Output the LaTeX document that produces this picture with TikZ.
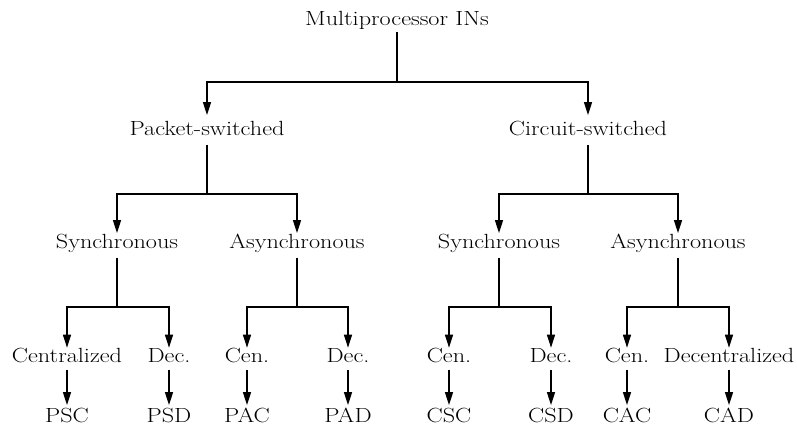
\documentclass[tikz,border=0pt]{standalone}
\usepackage{fontspec}
\setmainfont{Latin Modern Roman}[FakeStretch=1.18]
\usetikzlibrary{arrows.meta}
\begin{document}
\begin{tikzpicture}[x=1pt,y=-1pt,
  lbl/.style={font=\fontsize{20.5}{24}\selectfont, inner sep=0pt, text height=14.2pt, text depth=4pt},
  conn/.style={line width=1.3pt},
  arr/.style={conn, -{Triangle[length=13pt,width=8pt]}}]
\useasboundingbox (0,0) rectangle (797,428);
% level 0
\node[lbl] (root) at (397,20) {Multiprocessor INs};
% level 1
\node[lbl] (ps) at (207,130) {Packet-switched};
\node[lbl] (cs) at (588,130) {Circuit-switched};
% level 2
\node[lbl] (pss) at (117,243) {Synchronous};
\node[lbl] (psa) at (297,243) {Asynchronous};
\node[lbl] (css) at (499,243) {Synchronous};
\node[lbl] (csa) at (678,243) {Asynchronous};
% level 3
\node[lbl] (pssc) at (67,357) {Centralized};
\node[lbl] (pssd) at (169,357) {Dec.};
\node[lbl] (psac) at (247,357) {Cen.};
\node[lbl] (psad) at (348,357) {Dec.};
\node[lbl] (cssc) at (449,357) {Cen.};
\node[lbl] (cssd) at (551,357) {Dec.};
\node[lbl] (csac) at (627,357) {Cen.};
\node[lbl] (csad) at (729,357) {Decentralized};
% level 4
\node[lbl] (psc) at (67,417) {PSC};
\node[lbl] (psd) at (169,417) {PSD};
\node[lbl] (pac) at (247,417) {PAC};
\node[lbl] (pad) at (348,417) {PAD};
\node[lbl] (csc) at (449,417) {CSC};
\node[lbl] (csd) at (551,417) {CSD};
\node[lbl] (cac) at (627,417) {CAC};
\node[lbl] (cad) at (729,417) {CAD};
% junctions
\coordinate (j0) at (397,82);
\coordinate (j1) at (207,194);
\coordinate (j2) at (588,194);
\coordinate (j3) at (117,307);
\coordinate (j4) at (297,307);
\coordinate (j5) at (499,307);
\coordinate (j6) at (678,307);
% level 0 -> 1
\draw[conn, shorten <=2.5pt] (root.south) -- (j0);
\draw[arr, shorten >=5.6pt] (j0) -| (ps.north);
\draw[arr, shorten >=5.6pt] (j0) -| (cs.north);
% level 1 -> 2
\draw[conn, shorten <=5.6pt] (ps.south) -- (j1);
\draw[conn, shorten <=5.6pt] (cs.south) -- (j2);
\draw[arr, shorten >=0.6pt] (j1) -| (pss.north);
\draw[arr, shorten >=0.6pt] (j1) -| (psa.north);
\draw[arr, shorten >=0.6pt] (j2) -| (css.north);
\draw[arr, shorten >=0.6pt] (j2) -| (csa.north);
% level 2 -> 3
\draw[conn, shorten <=5.6pt] (pss.south) -- (j3);
\draw[conn, shorten <=5.6pt] (psa.south) -- (j4);
\draw[conn, shorten <=5.6pt] (css.south) -- (j5);
\draw[conn, shorten <=5.6pt] (csa.south) -- (j6);
\draw[arr] (j3) -| (pssc.north);
\draw[arr] (j3) -| (pssd.north);
\draw[arr] (j4) -| (psac.north);
\draw[arr] (j4) -| (psad.north);
\draw[arr] (j5) -| (cssc.north);
\draw[arr] (j5) -| (cssd.north);
\draw[arr] (j6) -| (csac.north);
\draw[arr] (j6) -| (csad.north);
% level 3 -> 4
\draw[arr, shorten <=3.6pt, shorten >=2.6pt] (pssc.south) -- (psc.north);
\draw[arr, shorten <=3.6pt, shorten >=2.6pt] (pssd.south) -- (psd.north);
\draw[arr, shorten <=3.6pt, shorten >=2.6pt] (psac.south) -- (pac.north);
\draw[arr, shorten <=3.6pt, shorten >=2.6pt] (psad.south) -- (pad.north);
\draw[arr, shorten <=3.6pt, shorten >=2.6pt] (cssc.south) -- (csc.north);
\draw[arr, shorten <=3.6pt, shorten >=2.6pt] (cssd.south) -- (csd.north);
\draw[arr, shorten <=3.6pt, shorten >=2.6pt] (csac.south) -- (cac.north);
\draw[arr, shorten <=3.6pt, shorten >=2.6pt] (csad.south) -- (cad.north);
\end{tikzpicture}
\end{document}
